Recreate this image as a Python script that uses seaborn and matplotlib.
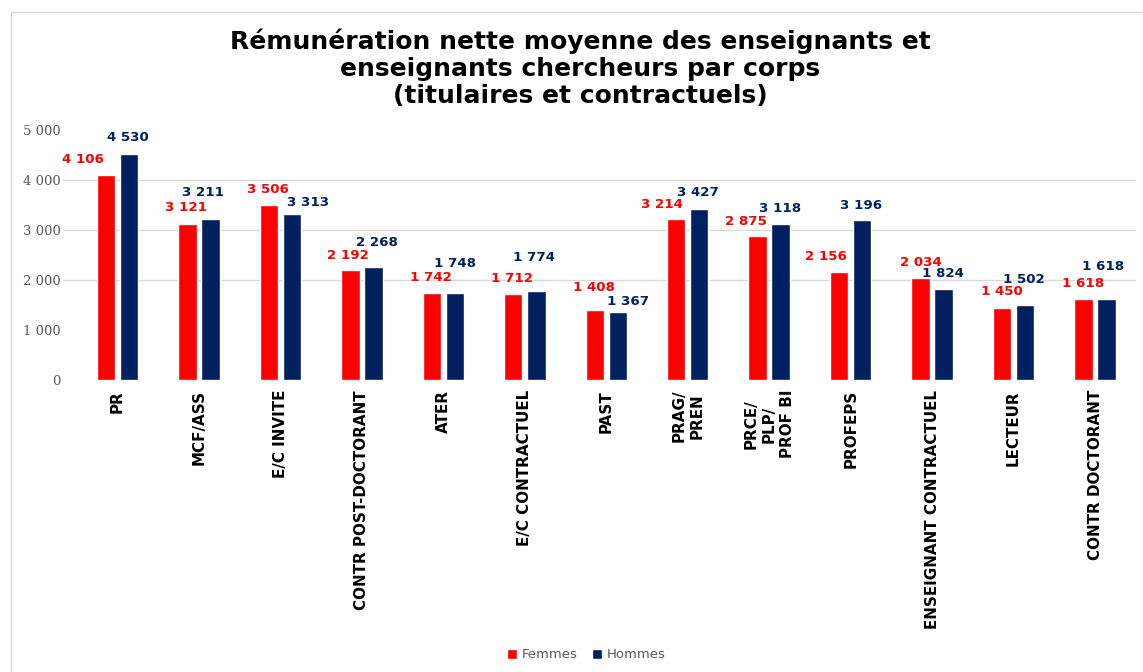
import matplotlib
matplotlib.use("Agg")
import matplotlib.pyplot as plt
from matplotlib.lines import Line2D
import pandas as pd
import seaborn as sns

# ---- data -------------------------------------------------------------
categories = ["PR", "MCF/ASS", "E/C INVITE", "CONTR POST-DOCTORANT", "ATER",
              "E/C CONTRACTUEL", "PAST", "PRAG/\nPREN", "PRCE/\nPLP/\nPROF BI",
              "PROFEPS", "ENSEIGNANT CONTRACTUEL", "LECTEUR", "CONTR DOCTORANT"]
femmes = [4106, 3121, 3506, 2192, 1742, 1712, 1408, 3214, 2875, 2156, 2034, 1450, 1618]
hommes = [4530, 3211, 3313, 2268, 1748, 1774, 1367, 3427, 3118, 3196, 1824, 1502, 1618]
series = ["Femmes", "Hommes"]
y_ticks = [0, 1000, 2000, 3000, 4000, 5000]
grid_levels = [2000, 3000, 4000]
title = ("Rémunération nette moyenne des enseignants et\n"
         "enseignants chercheurs par corps\n"
         "(titulaires et contractuels)")

# ---- styling ----------------------------------------------------------
colors = {"Femmes": "#FF0000", "Hommes": "#002060"}
grey = "#595959"

# value-label offsets in pixels (dx, dy) from the top centre of each bar
fem_dx = [-23.5, -1.5, -1, -2, -1.2, -1.3, -0.8, -14.6, -12.2, -13.5, 0, 0, -0.5]
fem_dy = [16.4, 17.3, 16.4, 16.4, 16.2, 16.7, 23.6, 16, 16.3, 17.2, 16.6, 16.8, 16.8]
hom_dx = [-1.5, -7.5, 16.5, 4, 0, -2, 10.5, -1, -1, -1.5, -1, -1, -3]
hom_dy = [16.8, 28.5, 13.4, 24.9, 30.3, 35.3, 11, 17.7, 16.4, 15.9, 16.5, 26.6, 34.1]

sns.set_style("white")
plt.rcParams["font.family"] = ["DejaVu Sans"]

W, H = 1143, 672
fig = plt.figure(figsize=(W / 100, H / 100), dpi=100)
ax = fig.add_axes([63 / W, (H - 380) / H, (1136 - 63) / W, 250 / H])

df = pd.DataFrame({
    "corps": categories * 2,
    "sexe": [series[0]] * len(categories) + [series[1]] * len(categories),
    "valeur": femmes + hommes,
})

sns.barplot(data=df, x="corps", y="valeur", hue="sexe", order=categories,
            hue_order=series, palette=colors, width=0.565, gap=0.2,
            saturation=1, ax=ax, zorder=2)

for lvl in grid_levels:
    ax.axhline(lvl, color="#d9d9d9", lw=1.0, zorder=0)

ax.set_xlim(-0.669, 12.503)
ax.set_ylim(0, 5000)
sns.despine(ax=ax, left=True, bottom=True)
ax.set_xlabel("")
ax.set_ylabel("")

ax.set_yticks(y_ticks)
ax.set_yticklabels([f"{v:,}".replace(",", " ") for v in y_ticks],
                   family="DejaVu Serif", fontsize=9.5, color=grey)
ax.tick_params(axis="y", length=0, pad=1.5)

ax.set_xticks(range(len(categories)))
ax.set_xticklabels(categories, rotation=90, fontweight="bold", fontsize=10.9,
                   va="top", ha="center", multialignment="center",
                   color="black", linespacing=1.25)
ax.tick_params(axis="x", length=0, pad=7.2)

# value labels above the bars
for cont, vals, dxs, dys, name in zip(ax.containers, [femmes, hommes],
                                      [fem_dx, hom_dx], [fem_dy, hom_dy], series):
    for bar, v, dx, dy in zip(cont, vals, dxs, dys):
        x = bar.get_x() + bar.get_width() / 2
        ax.annotate(f"{v:,}".replace(",", " "), (x, v),
                    xytext=(dx, dy - 4.7), textcoords="offset pixels",
                    ha="center", va="baseline", color=colors[name],
                    fontweight="bold", fontsize=9.6, annotation_clip=False)

# legend
handles, labels = ax.get_legend_handles_labels()
ax.legend(handles, labels, loc="center", bbox_to_anchor=(586 / W, 1 - 655 / H),
          bbox_transform=fig.transFigure, ncol=2, frameon=False,
          handlelength=0.8, handleheight=0.8, handletextpad=0.3,
          columnspacing=1.1, fontsize=9.5, labelcolor=grey)

# title
fig.text(580 / W, 1 - 28 / H, title, ha="center", va="top",
         fontsize=18, fontweight="bold", color="black", linespacing=1.16)

# chart frame
frame_kw = dict(transform=fig.transFigure, color="#d9d9d9", lw=1.0)
fig.add_artist(Line2D([11 / W, 11 / W], [0, 1 - 12 / H], **frame_kw))
fig.add_artist(Line2D([11 / W, 1], [1 - 12 / H, 1 - 12 / H], **frame_kw))

fig.savefig("out.png", dpi=100, facecolor="white")
